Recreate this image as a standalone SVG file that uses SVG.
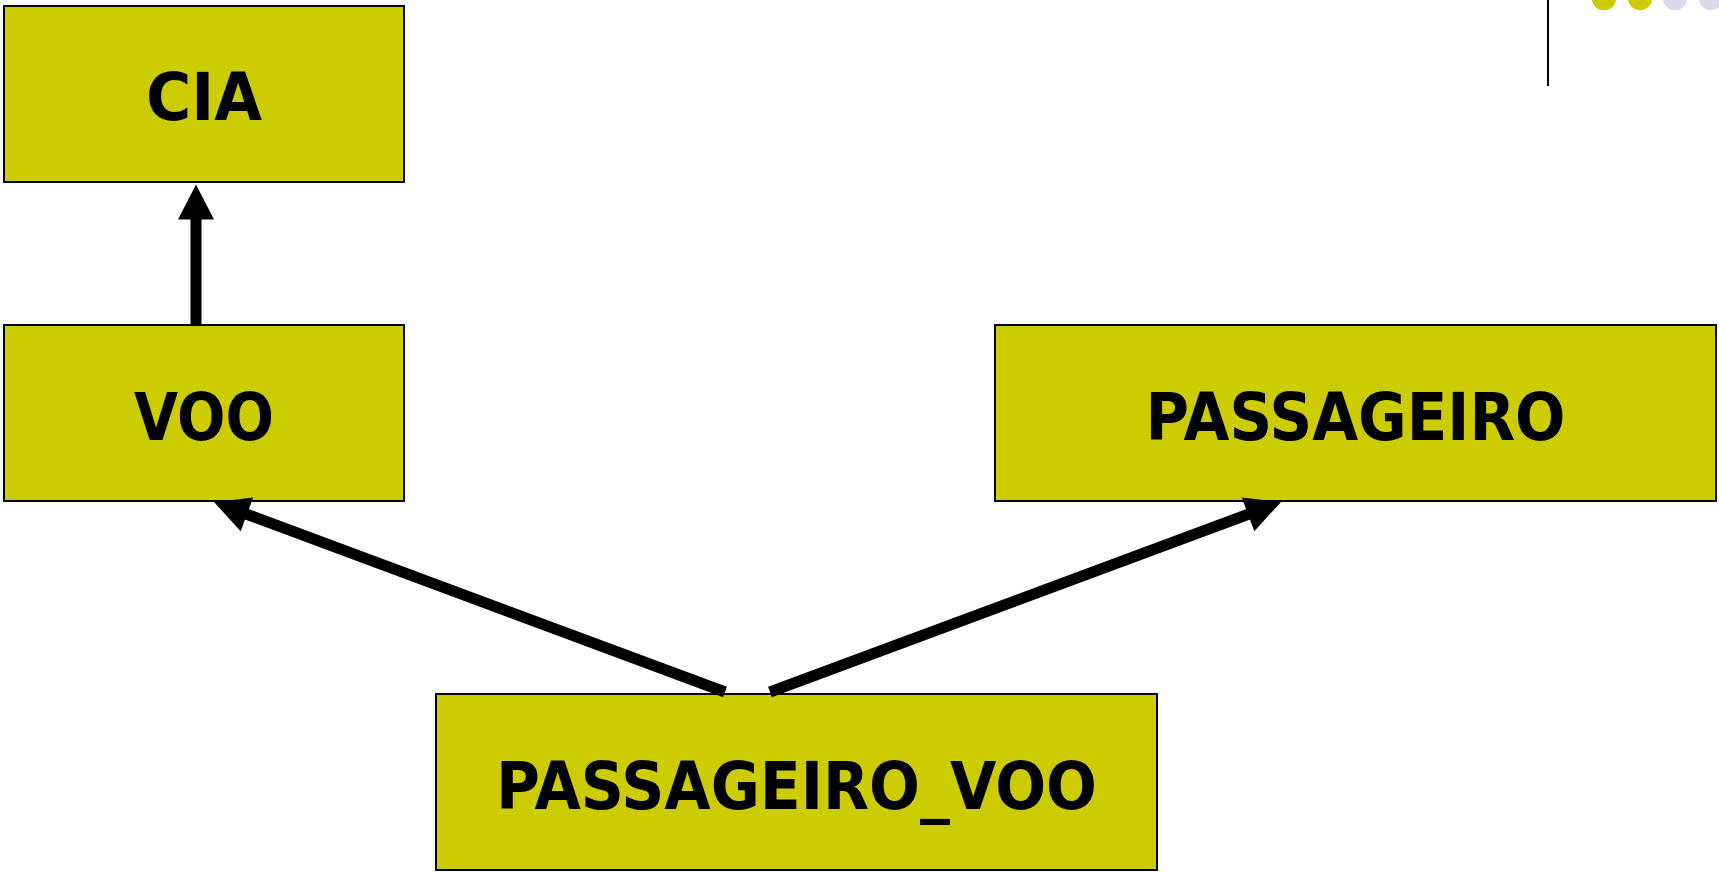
<svg xmlns="http://www.w3.org/2000/svg" width="1719" height="872" viewBox="0 0 1719 872">
  <defs>
    <style>
      .entity { fill: #CCCC00; stroke: #000000; stroke-width: 2; }
      .label { font-family: "DejaVu Sans", "Liberation Sans", sans-serif; font-weight: bold; font-size: 66px; fill: #000000; text-anchor: middle; }
      .link { stroke: #000000; stroke-width: 11; fill: none; stroke-linecap: butt; }
      .dot-a { fill: #CCCC00; }
      .dot-b { fill: #D9D9EC; }
    </style>
    <marker id="head" viewBox="0 -18 36 36" markerUnits="userSpaceOnUse" markerWidth="36" markerHeight="36" refX="1" refY="0" orient="auto" overflow="visible">
      <path d="M0,-18 L35,0 L0,18 Z" fill="#000000"/>
    </marker>
  </defs>

  <!-- decoration in the top right corner -->
  <g id="decor">
    <line x1="1548" y1="0" x2="1548" y2="86" stroke="#000000" stroke-width="2"/>
    <circle class="dot-a" cx="1604" cy="-2" r="12.2"/>
    <circle class="dot-a" cx="1640" cy="-2" r="12.2"/>
    <circle class="dot-b" cx="1675" cy="-2" r="12.2"/>
    <circle class="dot-b" cx="1711" cy="-2" r="12.2"/>
  </g>

  <g id="node-cia">
    <rect class="entity" x="4" y="6" width="400" height="176"/>
    <text class="label" x="204" y="120" textLength="116" lengthAdjust="spacingAndGlyphs">CIA</text>
  </g>

  <g id="node-voo">
    <rect class="entity" x="4" y="325" width="400" height="176"/>
    <text class="label" x="204" y="440" textLength="140" lengthAdjust="spacingAndGlyphs">VOO</text>
  </g>

  <g id="node-passageiro">
    <rect class="entity" x="995" y="325" width="721" height="176"/>
    <text class="label" x="1355.5" y="440" textLength="420" lengthAdjust="spacingAndGlyphs">PASSAGEIRO</text>
  </g>

  <g id="node-passageiro-voo">
    <rect class="entity" x="436" y="694" width="721" height="176"/>
    <text class="label" x="796.5" y="809" textLength="601" lengthAdjust="spacingAndGlyphs">PASSAGEIRO_VOO</text>
  </g>

  <!-- foreign-key connectors -->
  <g id="connectors">
    <line class="link" x1="196" y1="325" x2="196" y2="218.5" marker-end="url(#head)"/>
    <line class="link" x1="725" y1="692" x2="246" y2="514" marker-end="url(#head)"/>
    <line class="link" x1="770" y1="692" x2="1249" y2="514" marker-end="url(#head)"/>
  </g>
</svg>
